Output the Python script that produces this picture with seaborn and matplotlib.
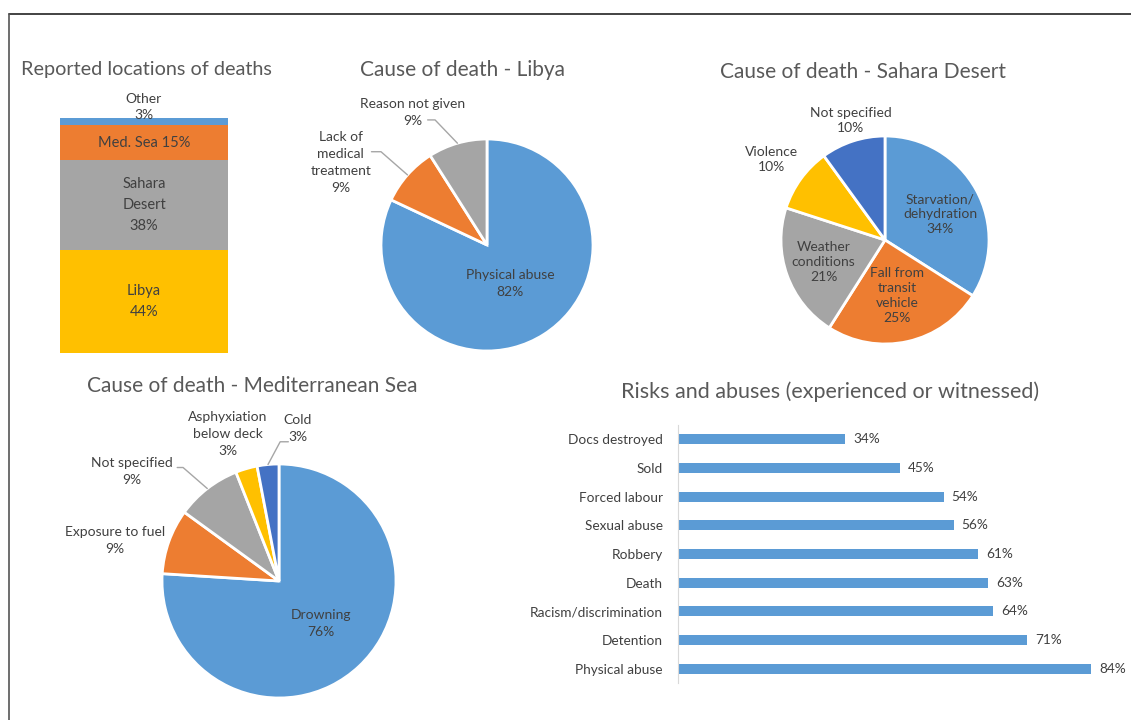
import numpy as np
import matplotlib
matplotlib.use("Agg")
import matplotlib.pyplot as plt
from matplotlib.lines import Line2D
import seaborn as sns
import pandas as pd

# ---- data ----
loc_names = ["Libya", "Sahara\nDesert", "Med. Sea", "Other"]
loc_values = [44, 38, 15, 3]

libya_causes = ["Physical abuse", "Lack of\nmedical\ntreatment", "Reason not given"]
libya_values = [82, 9, 9]

sahara_causes = ["Starvation/\ndehydration", "Fall from\ntransit\nvehicle",
                 "Weather\nconditions", "Violence", "Not specified"]
sahara_values = [34, 25, 21, 10, 10]

med_causes = ["Drowning", "Exposure to fuel", "Not specified",
              "Asphyxiation\nbelow deck", "Cold"]
med_values = [76, 9, 9, 3, 3]

risk_names = ["Docs destroyed", "Sold", "Forced labour", "Sexual abuse", "Robbery",
              "Death", "Racism/discrimination", "Detention", "Physical abuse"]
risk_values = [34, 45, 54, 56, 61, 63, 64, 71, 84]

# ---- style ----
BLUE, ORANGE, GREY, YELLOW, DBLUE = "#5B9BD5", "#ED7D31", "#A5A5A5", "#FFC000", "#4472C4"
TXT, TITLE = "#404040", "#595959"

sns.set_style("white")
plt.rcParams["font.family"] = ["Lato", "DejaVu Sans"]

W, H = 1131, 720
fig = plt.figure(figsize=(W / 100, H / 100), dpi=100)


def box(x0, y0, x1, y1):
    """pixel box (top-left origin) -> figure fraction rect"""
    return [x0 / W, 1 - y1 / H, (x1 - x0) / W, (y1 - y0) / H]


def title(x, y, s, size=15):
    fig.text(x / W, 1 - y / H, s, ha="center", va="center", fontsize=size, color=TITLE)


# frame lines of the original image
fig.add_artist(Line2D([9 / W, 1], [1 - 14 / H, 1 - 14 / H], color="#222222", lw=1.2))
fig.add_artist(Line2D([9 / W, 9 / W], [0, 1 - 14 / H], color="#555555", lw=1.2))

# ---- stacked bar: reported locations ----
ax0 = fig.add_axes(box(60, 118, 228, 353))
bottoms = np.concatenate([[0], np.cumsum(loc_values)[:-1]])
loc_colors = [YELLOW, GREY, ORANGE, BLUE]
ax0.bar([0] * 4, loc_values, bottom=bottoms, width=1.0, color=loc_colors, linewidth=0)
for name, v, b in zip(loc_names, loc_values, bottoms):
    if name == "Other":
        ax0.text(0, b + v + 4.5, f"{name}\n{v}%", ha="center", va="center",
                 fontsize=10, color=TXT, linespacing=1.4)
    elif name == "Med. Sea":
        ax0.text(0, b + v / 2, f"{name} {v}%", ha="center", va="center",
                 fontsize=10.5, color=TXT)
    else:
        ax0.text(0, b + v / 2, f"{name}\n{v}%", ha="center", va="center",
                 fontsize=10.5, color=TXT, linespacing=1.65)
ax0.set_xlim(-0.5, 0.5)
ax0.set_ylim(0, sum(loc_values))
ax0.axis("off")
title(146, 70, "Reported locations of deaths", size=14.3)


def draw_pie(ax, values, labels, colors, offsets, leaders, spacing=1.5):
    wedges, _ = ax.pie(values, colors=colors, startangle=90, counterclock=False,
                       wedgeprops=dict(edgecolor="white", linewidth=2))
    ax.set_xlim(-1, 1)
    ax.set_ylim(-1, 1)
    ax.set_aspect("auto")
    for w, lab, v, off in zip(wedges, labels, values, offsets):
        ax.text(off[0], off[1], f"{lab}\n{v}%", ha="center", va="center",
                fontsize=10, color=TXT, linespacing=spacing, clip_on=False)
    for idx, pts in leaders.items():
        w = wedges[idx]
        mid = np.deg2rad((w.theta1 + w.theta2) / 2)
        xs = [p[0] for p in pts] + [np.cos(mid)]
        ys = [p[1] for p in pts] + [np.sin(mid)]
        ax.plot(xs, ys, color="#A6A6A6", lw=1, clip_on=False)


# ---- pie: Libya ----
ax1 = fig.add_axes(box(487 - 106, 245 - 106, 487 + 106, 245 + 106))
draw_pie(ax1, libya_values, libya_causes, [BLUE, ORANGE, GREY],
         offsets=[(0.22, -0.36), (-1.38, 0.78), (-0.70, 1.25)],
         leaders={1: [(-1.09, 0.88), (-1.0, 0.88)], 2: [(-0.56, 1.18), (-0.49, 1.18)]})
title(462, 70, "Cause of death - Libya")

# ---- pie: Sahara ----
ax2 = fig.add_axes(box(885 - 104, 240 - 104, 885 + 104, 240 + 104))
draw_pie(ax2, sahara_values, sahara_causes, [BLUE, ORANGE, GREY, YELLOW, DBLUE],
         offsets=[(0.53, 0.25), (0.12, -0.53), (-0.59, -0.21), (-1.09, 0.77), (-0.33, 1.15)],
         leaders={}, spacing=1.3)
title(863, 72, "Cause of death - Sahara Desert")

# ---- pie: Mediterranean ----
ax3 = fig.add_axes(box(279 - 117, 581 - 117, 279 + 117, 581 + 117))
draw_pie(ax3, med_values, med_causes, [BLUE, ORANGE, GREY, YELLOW, DBLUE],
         offsets=[(0.36, -0.36), (-1.40, 0.35), (-1.26, 0.94), (-0.44, 1.26), (0.16, 1.30)],
         leaders={2: [(-0.87, 0.97), (-0.82, 0.97)], 4: [(0.08, 1.19), (0.01, 1.19)]})
title(252, 386, "Cause of death - Mediterranean Sea")

# ---- horizontal bars: risks ----
ax4 = fig.add_axes(box(678, 425, 678 + 443, 683))
df = pd.DataFrame({"risk": risk_names, "pct": risk_values})
sns.barplot(data=df, x="pct", y="risk", ax=ax4, color=BLUE, width=0.36,
            saturation=1, edgecolor="none")
ax4.set_xlim(0, 90)
ax4.set_ylim(len(risk_names) - 0.5, -0.5)
for i, v in enumerate(risk_values):
    ax4.text(v + 1.6, i, f"{v}%", va="center", ha="left", fontsize=9.8, color=TXT)
ax4.set_xlabel("")
ax4.set_ylabel("")
ax4.set_xticks([])
for s in ["top", "right", "bottom"]:
    ax4.spines[s].set_visible(False)
ax4.spines["left"].set_color("#D9D9D9")
ax4.tick_params(axis="y", length=0, labelsize=9.8, labelcolor=TXT, pad=11)
title(830, 392, "Risks and abuses (experienced or witnessed)", size=15.5)

fig.savefig("out.png", dpi=100, facecolor="white")
